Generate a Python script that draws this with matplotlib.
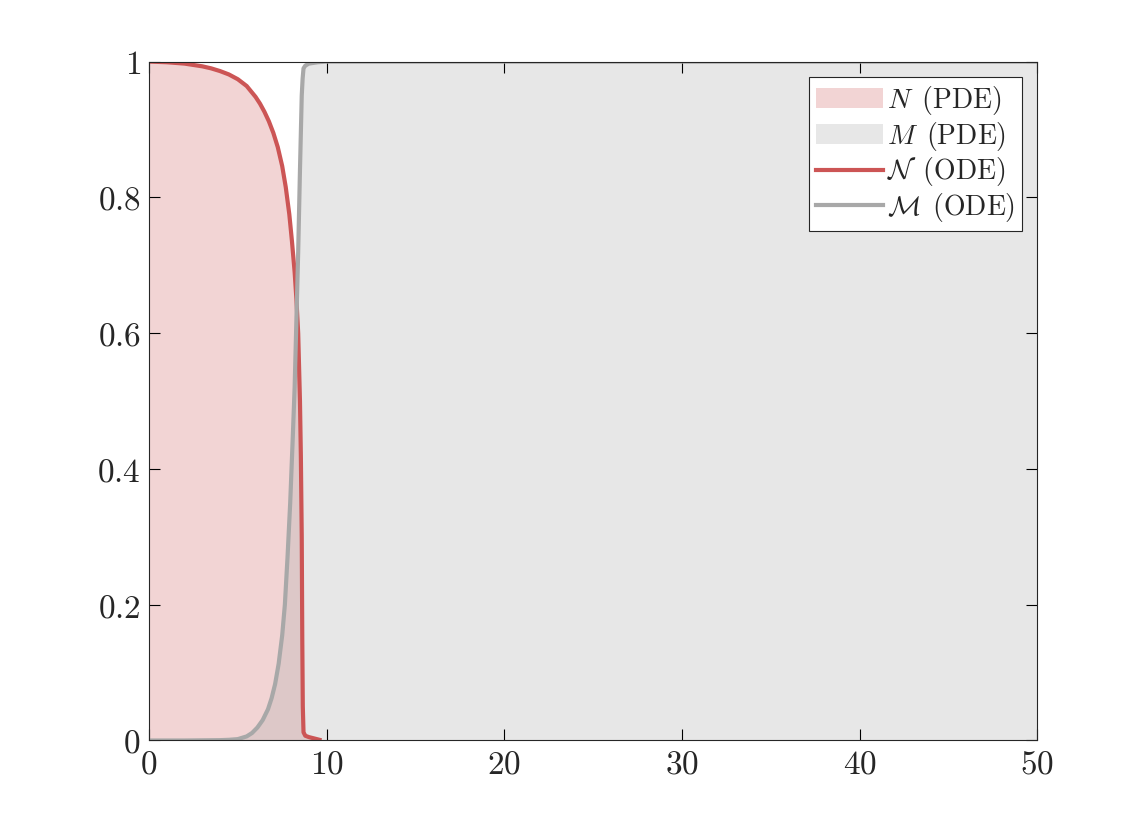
import matplotlib.pyplot as plt
from matplotlib.ticker import FuncFormatter

# ---------------------------------------------
# Populações N e M: PDE (área) vs. ODE (linha)
# ---------------------------------------------

plt.rcParams['mathtext.fontset'] = 'cm'
plt.rcParams['font.family'] = 'DejaVu Serif'

# valores
t_n = [0, 1, 2, 2.5, 3, 3.5, 4, 4.5, 5, 5.5, 6, 6.25, 6.5, 6.75, 7, 7.25, 7.5, 7.7, 7.9, 8.05, 8.2, 8.3,
       8.4, 8.5, 8.55, 8.6, 8.63, 8.66, 8.7, 8.8, 9.0, 9.3, 9.6]
n_vals = [1.0, 0.999, 0.997, 0.995, 0.993, 0.99, 0.986, 0.981, 0.974, 0.964, 0.948, 0.938, 0.926, 0.912,
          0.895, 0.874, 0.846, 0.815, 0.775, 0.735, 0.69, 0.65, 0.6, 0.5, 0.42, 0.3, 0.15, 0.05, 0.012,
          0.007, 0.005, 0.003, 0.001]

t_m = [0, 2, 4, 4.5, 5, 5.5, 5.8, 6.1, 6.4, 6.7, 6.9, 7.1, 7.3, 7.5, 7.65, 7.8, 7.95, 8.1, 8.2, 8.3, 8.4,
       8.5, 8.6, 8.65, 8.7, 8.8, 9.0, 9.5, 10, 50]
m_vals = [0.0, 0.0, 0.0005, 0.001, 0.002, 0.006, 0.011, 0.019, 0.03, 0.046, 0.062, 0.083, 0.113, 0.155,
          0.2, 0.27, 0.35, 0.45, 0.52, 0.62, 0.72, 0.84, 0.95, 0.975, 0.99, 0.994, 0.997, 0.999, 1.0, 1.0]

cor_n = '#CC5555'
cor_m = '#A8A8A8'
cor_txt = '#262626'

fig = plt.figure(figsize=(11.46, 8.32), dpi=100)
ax = fig.add_axes([0.13, 0.11, 0.775, 0.816])

ax.fill_between(t_n, 0, n_vals, color=cor_n, alpha=0.25, linewidth=0, label=r'$N\ \,\mathrm{(PDE)}$')
ax.fill_between(t_m, 0, m_vals, color=cor_m, alpha=0.27, linewidth=0, label=r'$M\ \,\mathrm{(PDE)}$')
ax.plot(t_n, n_vals, color=cor_n, linewidth=3, label=r'$\mathcal{N}\ \,\mathrm{(ODE)}$')
ax.plot(t_m, m_vals, color=cor_m, linewidth=3, label=r'$\mathcal{M}\ \,\mathrm{(ODE)}$')

ax.set_xlim(0, 50)
ax.set_ylim(0, 1)
ax.set_xticks([0, 10, 20, 30, 40, 50])
ax.set_yticks([0, 0.2, 0.4, 0.6, 0.8, 1])
ax.xaxis.set_major_formatter(FuncFormatter(lambda v, p: r'$%g$' % v))
ax.yaxis.set_major_formatter(FuncFormatter(lambda v, p: r'$%g$' % v))
ax.tick_params(direction='in', top=True, right=True, length=8, width=0.8,
               labelsize=24, labelcolor=cor_txt, pad=6)
for s in ax.spines.values():
    s.set_linewidth(0.8)
    s.set_color(cor_txt)

leg = ax.legend(loc='upper right', fontsize=20, fancybox=False, framealpha=1,
                edgecolor=cor_txt, handlelength=2.4, handletextpad=0.15,
                borderpad=0.25, labelspacing=0.1, borderaxespad=0.55)
leg.get_frame().set_linewidth(0.8)
for txt in leg.get_texts():
    txt.set_color(cor_txt)

plt.savefig('out.png', dpi=100)
plt.close()
